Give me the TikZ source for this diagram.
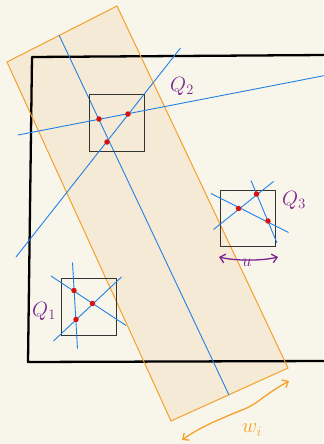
\documentclass[tikz,border=0pt]{standalone}
\usepackage{fontspec}
\usetikzlibrary{arrows.meta}
\definecolor{bg}{HTML}{F8F5EA}
\definecolor{stripfill}{HTML}{F5EAD5}
\definecolor{orangeline}{HTML}{F5A02A}
\definecolor{lineblue}{HTML}{2080E8}
\definecolor{dotred}{HTML}{D81010}
\definecolor{labpurple}{HTML}{7A2590}
\tikzset{
  bline/.style={draw=lineblue, line width=0.9},
  qbox/.style={draw=black!80, line width=1.1},
  rdot/.style={circle, fill=dotred, inner sep=0pt, minimum size=5.5},
  qlab/.style={text=labpurple, font=\fontsize{20}{24}\selectfont},
  wlab/.style={text=orangeline, font=\fontsize{20}{24}\selectfont},
  barbs/.style={{Straight Barb[length=5pt,width=9pt]}-{Straight Barb[length=5pt,width=9pt]}, line width=1.3, line cap=round, line join=round},
}
\begin{document}
\begin{tikzpicture}[x=1bp,y=-1bp]
\useasboundingbox (0,0) rectangle (323,444);
\fill[bg] (0,0) rectangle (323,444);
% strip
\coordinate (s1) at (7,62);
\coordinate (s2) at (117,6);
\coordinate (s3) at (288,368);
\coordinate (s4) at (171,421);
\fill[stripfill] (s1) -- (s2) -- (s3) -- (s4) -- cycle;
% big rectangle
\coordinate (r1) at (326,55);
\coordinate (r2) at (32,57);
\coordinate (r3) at (28,362);
\coordinate (r4) at (326,361);
\draw[line width=2.3, line join=round] (r1) -- (r2) -- (r3) -- (r4);
\draw[draw=orangeline, line width=1] (s1) -- (s2) -- (s3) -- (s4) -- cycle;
% centre line of strip
\coordinate (c1) at (59,35);
\coordinate (c2) at (229,395);
\draw[bline] (c1) -- (c2);
% Q2
\node[qbox, minimum width=56, minimum height=58, inner sep=0pt] (q2) at (117,123) {};
\coordinate (a1) at (18,135);
\coordinate (a2) at (325,75.5);
\coordinate (b1) at (180.5,48);
\coordinate (b2) at (16,257);
\draw[bline] (a1) -- (a2);
\draw[bline] (b1) -- (b2);
\node[rdot] (d21) at (99,119) {};
\node[rdot] (d22) at (128,114) {};
\node[rdot] (d23) at (107,142) {};
\node[qlab] (l2) at (182,86) {$Q_2$};
% Q3
\node[qbox, minimum width=56, minimum height=57, inner sep=0pt] (q3) at (248,218.5) {};
\coordinate (e1) at (211,193.5);
\coordinate (e2) at (288.5,232.5);
\coordinate (f1) at (213.5,229.5);
\coordinate (f2) at (273.5,181.5);
\coordinate (g1) at (251,180.5);
\coordinate (g2) at (277,243);
\draw[bline] (e1) -- (e2);
\draw[bline] (f1) -- (f2);
\draw[bline] (g1) -- (g2);
\node[rdot] (d31) at (238.5,208.5) {};
\node[rdot] (d32) at (256.5,194) {};
\node[rdot] (d33) at (268,221) {};
\node[qlab] (l3) at (294,200) {$Q_3$};
\coordinate (u1) at (219,257);
\coordinate (u2) at (278,257);
\draw[barbs, draw=labpurple] (u1) .. controls (235,261) and (262,261) .. (u2);
\node[qlab, font=\fontsize{18}{20}\selectfont] (lu) at (247,263) {$u$};
% Q1
\node[qbox, minimum width=56, minimum height=58, inner sep=0pt] (q1) at (89,307) {};
\coordinate (h1) at (51,276);
\coordinate (h2) at (126,325.5);
\coordinate (i1) at (121.5,277);
\coordinate (i2) at (53.5,341);
\coordinate (j1) at (72.5,262.5);
\coordinate (j2) at (77.5,348.5);
\draw[bline] (h1) -- (h2);
\draw[bline] (i1) -- (i2);
\draw[bline] (j1) -- (j2);
\node[rdot] (d11) at (74,290.5) {};
\node[rdot] (d12) at (92.5,303.5) {};
\node[rdot] (d13) at (76,319.5) {};
\node[qlab] (l1) at (44,311) {$Q_1$};
% w_i arrow
\coordinate (w1) at (182,440);
\coordinate (w2) at (289,381);
\draw[barbs, draw=orangeline] (w1) .. controls (200,427) and (222,418) .. (242,410) .. controls (258,404) and (262,396) .. (w2);
\node[wlab] (lw) at (252,430) {$w_i$};
\end{tikzpicture}
\end{document}
